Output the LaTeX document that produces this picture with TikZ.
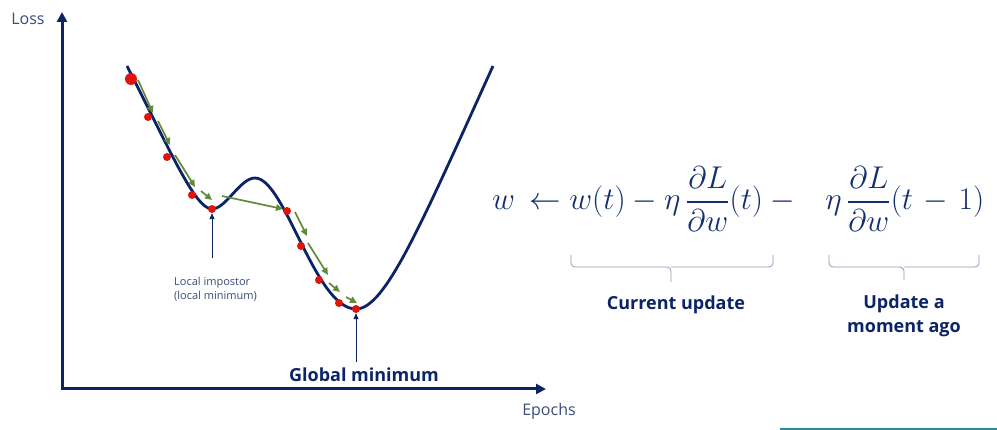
\documentclass[tikz,border=0pt]{standalone}
\usepackage{amsmath}
\usepackage{graphicx}
\usepackage[no-math]{fontspec}
\setmainfont{Open Sans}
\usetikzlibrary{arrows.meta}
\definecolor{navy}{HTML}{0C2366}
\definecolor{mathnavy}{HTML}{132F6E}
\definecolor{labgray}{HTML}{3B4B7A}
\definecolor{dotred}{HTML}{E0140A}
\definecolor{stepgreen}{HTML}{5F8B3A}
\definecolor{bracegray}{HTML}{8C9BB8}
\definecolor{tealline}{HTML}{2A8C9A}
\begin{document}
\begin{tikzpicture}[x=1pt,y=-1pt,
  axis/.style={draw=navy,line width=3pt,line join=miter},
  curve/.style={draw=navy,line width=2.8pt},
  dot/.style={circle,fill=dotred,inner sep=0pt,minimum size=8pt},
  bigdot/.style={circle,fill=dotred,inner sep=0pt,minimum size=12pt},
  stepar/.style={draw=stepgreen,line width=1.7pt,-{Triangle[length=7pt,width=6.5pt]}},
  pointer/.style={draw=navy,line width=0.8pt,-{Triangle[length=6pt,width=5pt]}},
  lab/.style={text=labgray,font=\fontsize{16}{19}\selectfont,inner sep=0pt},
  smalllab/.style={text=labgray,font=\fontsize{11}{14}\selectfont,inner sep=0pt,align=left},
  boldlab/.style={text=navy,font=\fontsize{18}{24}\selectfont\bfseries,inner sep=0pt,align=center},
  bracestyle/.style={draw=bracegray,line width=0.8pt,rounded corners=4pt}
]
\useasboundingbox (0,0) rectangle (997,430);

% axes
\coordinate (Ytop) at (62,12);
\coordinate (O) at (62,389);
\coordinate (Xend) at (546,389);
\draw[axis,{Triangle[length=10pt,width=10pt]}-{Triangle[length=10pt,width=10pt]}] (Ytop) -- (O) -- (Xend);
\node[lab] (loss) at (28,19) {Loss};
\node[lab] (epochs) at (549,411) {Epochs};

% loss curve
\draw[curve] (127,66) .. controls (170,150) and (195,209) .. (212,209)
  .. controls (226,209) and (240,178) .. (255,178)
  .. controls (285,178) and (315,309) .. (356,309)
  .. controls (385,309) and (420,227) .. (493,66);

% green step arrows
\coordinate (a1s) at (138,80);  \coordinate (a1e) at (153,113);
\coordinate (a2s) at (158,121); \coordinate (a2e) at (170,145);
\coordinate (a3s) at (175,155); \coordinate (a3e) at (195,187);
\coordinate (a4s) at (201,191); \coordinate (a4e) at (212,200);
\coordinate (a5s) at (222,196); \coordinate (a5e) at (283,209);
\coordinate (a6s) at (295,212); \coordinate (a6e) at (307,236);
\coordinate (a7s) at (308,243); \coordinate (a7e) at (328,275);
\coordinate (a8s) at (329,283); \coordinate (a8e) at (340,292);
\coordinate (a9s) at (346,297); \coordinate (a9e) at (357,303);
\foreach \i in {1,...,9} \draw[stepar] (a\i s) -- (a\i e);

% red dots
\node[bigdot] (d0) at (131,79) {};
\node[dot] (d1) at (148,117) {};
\node[dot] (d2) at (167,157) {};
\node[dot] (d3) at (192,195) {};
\node[dot] (lmin) at (212,209) {};
\node[dot] (d5) at (287,211) {};
\node[dot] (d6) at (301,246) {};
\node[dot] (d7) at (319,280) {};
\node[dot] (d8) at (339,303) {};
\node[dot] (gmin) at (356,309) {};

% pointers and labels
\coordinate (lp) at (212,258);
\draw[pointer] (lp) -- (lmin.south);
\node[smalllab,anchor=west] (local) at (174,289) {Local impostor\\(local minimum)};
\coordinate (gp) at (356,362);
\draw[pointer] (gp) -- (gmin.south);
\node[boldlab] (global) at (364,375) {Global minimum};

% formula
\node[text=mathnavy,inner sep=0pt,anchor=base west,font=\fontsize{24.88}{30}\selectfont] (formula) at (492,210)
  {\scalebox{1.266}{$w\,\leftarrow w(t) - \eta\,\dfrac{\partial L}{\partial w}(t) - \hspace{0.75em}\eta\,\dfrac{\partial L}{\partial w}(t\mskip2mu-\mskip2mu1)$}};

% braces
\draw[bracestyle] (571,255) -- (571,267) -- (671,267) -- (671,282);
\draw[bracestyle] (773,255) -- (773,267) -- (671,267);
\draw[bracestyle] (829,255) -- (829,267) -- (904,267) -- (904,280);
\draw[bracestyle] (979,255) -- (979,267) -- (904,267);
\node[boldlab] (cur) at (676,305) {Current update};
\node[boldlab] (prev) at (904,316) {Update a\\moment ago};

% bottom teal line
\draw[tealline,line width=2pt] (780,429) -- (997,429);
\end{tikzpicture}
\end{document}
